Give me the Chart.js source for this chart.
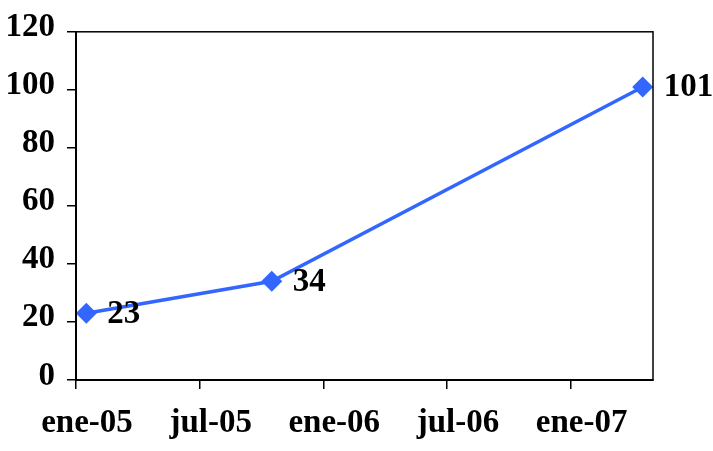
<!DOCTYPE html>
<html lang="es">
<head>
  <meta charset="UTF-8">
  <title>Serie</title>
  <script src="https://cdn.jsdelivr.net/npm/chart.js"></script>
  <style>
    html, body { margin: 0; padding: 0; background: #fff; }
    #wrap { width: 713px; height: 451px; }
  </style>
</head>
<body>
  <div id="wrap"><canvas id="chart"></canvas></div>

  <script>
    // data
    const fechas = ['2005-01', '2005-10', '2007-04'];
    const valores = [23, 34, 101];
    const tickMeses = [0, 6, 12, 18, 24];
    const tickEtiquetas = ['ene-05', 'jul-05', 'ene-06', 'jul-06', 'ene-07'];
    const yTicks = [0, 20, 40, 60, 80, 100, 120];

    // months since ene-05, point sits in the middle of its month
    function mesDesdeInicio(f) {
      const [a, m] = f.split('-').map(Number);
      return (a - 2005) * 12 + (m - 1) + 0.5;
    }

    const puntos = fechas.map((f, i) => ({ x: mesDesdeInicio(f), y: valores[i] }));
    const fuente = { family: "'Liberation Serif', 'Times New Roman', serif", size: 33, weight: 'bold' };
    const azul = '#3366ff';

    const marco = {
      id: 'marco',
      afterDraw(chart) {
        const { ctx, chartArea: a } = chart;
        ctx.save();
        ctx.strokeStyle = '#000';
        ctx.lineWidth = 1.5;
        ctx.strokeRect(a.left, a.top, a.right - a.left, a.bottom - a.top);
        ctx.restore();
      }
    };

    const etiquetas = {
      id: 'etiquetas',
      afterDatasetsDraw(chart) {
        const ctx = chart.ctx;
        const meta = chart.getDatasetMeta(0);
        ctx.save();
        ctx.font = `${fuente.weight} ${fuente.size}px ${fuente.family}`;
        ctx.fillStyle = '#000';
        ctx.textAlign = 'left';
        ctx.textBaseline = 'middle';
        meta.data.forEach((p, i) => {
          ctx.fillText(String(valores[i]), p.x + 21, p.y + 1);
        });
        ctx.restore();
      }
    };

    new Chart(document.getElementById('chart'), {
      type: 'line',
      data: {
        datasets: [{
          data: puntos,
          borderColor: azul,
          backgroundColor: azul,
          borderWidth: 3.5,
          pointStyle: 'rectRot',
          pointRadius: 10.5,
          pointHoverRadius: 10.5,
          pointBorderWidth: 0,
          tension: 0,
          clip: false
        }]
      },
      options: {
        responsive: true,
        maintainAspectRatio: false,
        animation: false,
        events: [],
        layout: { padding: { top: 31, right: 60, left: 0, bottom: 0 } },
        plugins: { legend: { display: false }, tooltip: { enabled: false } },
        scales: {
          x: {
            type: 'linear',
            min: 0,
            max: 28,
            afterBuildTicks(scale) { scale.ticks = tickMeses.map(v => ({ value: v })); },
            afterFit(scale) { scale.height = 71; },
            border: { display: true, color: '#000', width: 2 },
            grid: { drawOnChartArea: false, drawTicks: true, tickLength: 9, color: '#000', lineWidth: 1.5 },
            ticks: {
              autoSkip: false,
              maxRotation: 0,
              color: '#000',
              font: fuente,
              padding: 15,
              labelOffset: 11,
              callback(v) { return tickEtiquetas[tickMeses.indexOf(v)]; }
            }
          },
          y: {
            min: 0,
            max: 120,
            afterBuildTicks(scale) { scale.ticks = yTicks.map(v => ({ value: v })); },
            afterFit(scale) { scale.width = 76; },
            border: { display: true, color: '#000', width: 2 },
            grid: { drawOnChartArea: false, drawTicks: true, tickLength: 9, color: '#000', lineWidth: 1.5 },
            ticks: {
              color: '#000',
              font: fuente,
              padding: 12,
              labelOffset: -4
            }
          }
        }
      },
      plugins: [marco, etiquetas]
    });
  </script>
</body>
</html>
